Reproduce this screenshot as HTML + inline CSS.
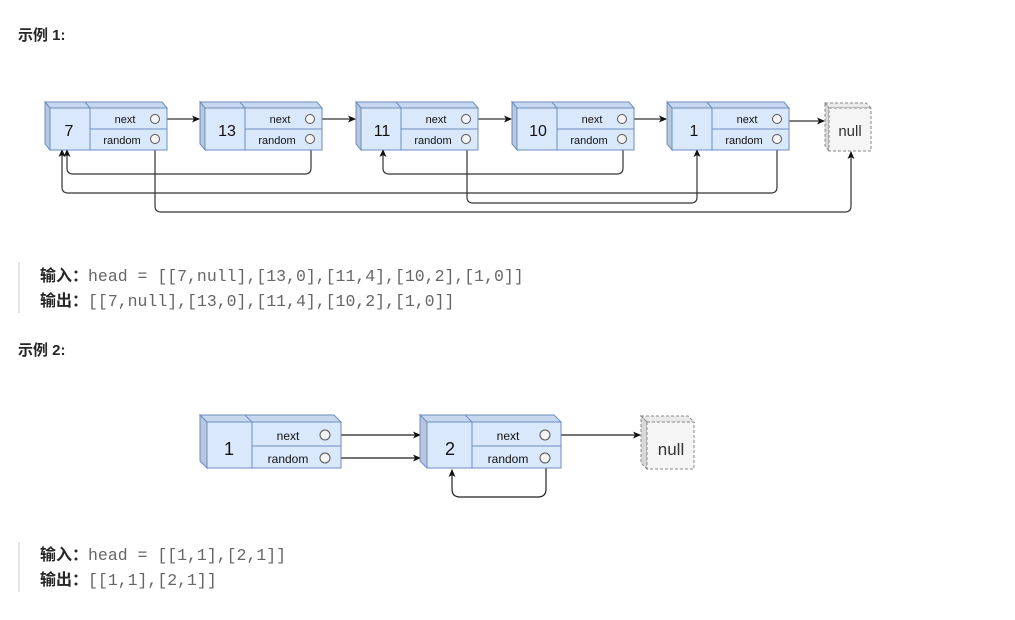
<!DOCTYPE html>
<html><head><meta charset="utf-8">
<style>
body{margin:0;width:1015px;height:620px;background:#fff;position:relative;overflow:hidden;font-family:"Liberation Sans","Noto Sans CJK SC",sans-serif;}
.h{position:absolute;left:18px;font-weight:bold;font-size:15px;color:#262626;}
.q{position:absolute;left:18px;border-left:2px solid #e5e5e5;padding-left:20px;}
.l{height:25px;line-height:25px;font-size:16.5px;color:#666;font-family:"Liberation Mono",monospace;white-space:pre;}
.l b{font-family:"Liberation Sans","Noto Sans CJK SC",sans-serif;color:#262626;font-size:16px;}
svg{position:absolute;left:0;top:0;}
svg text{font-family:"Liberation Sans",sans-serif;fill:#111;}
</style></head><body>
<div class="h" style="top:24px">示例 1:</div>
<div class="q" style="top:262px;height:51px"><div class="l" style="margin-top:2px"><b>输入：</b>head = [[7,null],[13,0],[11,4],[10,2],[1,0]]</div><div class="l"><b>输出：</b>[[7,null],[13,0],[11,4],[10,2],[1,0]]</div></div>
<div class="h" style="top:339px">示例 2:</div>
<div class="q" style="top:542px;height:50px"><div class="l" style="margin-top:1px"><b>输入：</b>head = [[1,1],[2,1]]</div><div class="l"><b>输出：</b>[[1,1],[2,1]]</div></div>

<svg width="1015" height="620" viewBox="0 0 1015 620">
<defs>
<marker id="a" markerWidth="8" markerHeight="8" refX="7" refY="4" orient="auto" markerUnits="userSpaceOnUse"><path d="M0,0.5 L8,4 L0,7.5 L2,4 Z" fill="#111"/></marker>
<g id="n1">
<polygon points="0,0 117,0 122,6 5,6" fill="#c7d7ef" stroke="#6c8ebf"/>
<polygon points="0,0 5,6 5,48 0,42" fill="#b9c6dc" stroke="#6c8ebf"/>
<rect x="5" y="6" width="117" height="42" fill="#dae8fc" stroke="#6c8ebf"/>
<line x1="45" y1="6" x2="45" y2="48" stroke="#6c8ebf"/>
<line x1="40" y1="0" x2="45" y2="6" stroke="#6c8ebf"/>
<line x1="45" y1="27" x2="122" y2="27" stroke="#6c8ebf"/>
<text x="80" y="21" font-size="11" text-anchor="middle">next</text>
<text x="77" y="42" font-size="11" text-anchor="middle">random</text>
<circle cx="110" cy="17" r="4.5" fill="#f5f5f5" stroke="#555"/>
<circle cx="110" cy="37" r="4.5" fill="#f5f5f5" stroke="#555"/>
</g>
<g id="n2">
<polygon points="0,0 134,0 141,7 7,7" fill="#c7d7ef" stroke="#6c8ebf"/>
<polygon points="0,0 7,7 7,53 0,46" fill="#b9c6dc" stroke="#6c8ebf"/>
<rect x="7" y="7" width="134" height="46" fill="#dae8fc" stroke="#6c8ebf"/>
<line x1="52" y1="7" x2="52" y2="53" stroke="#6c8ebf"/>
<line x1="45" y1="0" x2="52" y2="7" stroke="#6c8ebf"/>
<line x1="52" y1="31" x2="141" y2="31" stroke="#6c8ebf"/>
<text x="88" y="25" font-size="12" text-anchor="middle">next</text>
<text x="88" y="48" font-size="12" text-anchor="middle">random</text>
<circle cx="125" cy="20" r="5" fill="#f5f5f5" stroke="#555"/>
<circle cx="125" cy="43" r="5" fill="#f5f5f5" stroke="#555"/>
</g>
</defs>
<!-- example 1 -->
<g fill="none" stroke="#333" stroke-width="1.2">
<path d="M160,119 H199" marker-end="url(#a)"/>
<path d="M315,119 H355" marker-end="url(#a)"/>
<path d="M471,119 H511" marker-end="url(#a)"/>
<path d="M627,119 H666" marker-end="url(#a)"/>
<path d="M782,121 H824" marker-end="url(#a)"/>
<path d="M311,144 V168 q0,6 -6,6 H73 q-6,0 -6,-6 V150" marker-end="url(#a)"/>
<path d="M777,144 V187 q0,6 -6,6 H68 q-6,0 -6,-6 V150" marker-end="url(#a)"/>
<path d="M155,144 V206 q0,6 6,6 H845 q6,0 6,-6 V152" marker-end="url(#a)"/>
<path d="M623,144 V168 q0,6 -6,6 H389 q-6,0 -6,-6 V150" marker-end="url(#a)"/>
<path d="M467,144 V197 q0,6 6,6 H691 q6,0 6,-6 V150" marker-end="url(#a)"/>
</g>
<use href="#n1" x="45" y="102"/><text x="69" y="136" font-size="16" text-anchor="middle">7</text>
<use href="#n1" x="200" y="102"/><text x="227" y="136" font-size="16" text-anchor="middle">13</text>
<use href="#n1" x="356" y="102"/><text x="382" y="136" font-size="16" text-anchor="middle">11</text>
<use href="#n1" x="512" y="102"/><text x="538" y="136" font-size="16" text-anchor="middle">10</text>
<use href="#n1" x="667" y="102"/><text x="694" y="136" font-size="16" text-anchor="middle">1</text>
<g stroke="#888" stroke-dasharray="3,2" fill="#f5f5f5">
<polygon points="825,103 866,103 871,108 829,108" fill="#eaeaea"/>
<polygon points="825,103 829,108 829,151 825,146" fill="#d8d8d8"/>
<rect x="829" y="108" width="42" height="43"/>
</g>
<text x="850" y="136" font-size="15" text-anchor="middle" style="fill:#333">null</text>
<!-- example 2 -->
<g fill="none" stroke="#222" stroke-width="1.2">
<path d="M330,435 H420" marker-end="url(#a)"/>
<path d="M330,458 H420" marker-end="url(#a)"/>
<path d="M551,435 H640" marker-end="url(#a)"/>
<path d="M546,463 V489 q0,8 -8,8 H460 q-8,0 -8,-8 V470" marker-end="url(#a)"/>
</g>
<use href="#n2" x="200" y="415"/><text x="229" y="455" font-size="18" text-anchor="middle">1</text>
<use href="#n2" x="420" y="415"/><text x="450" y="455" font-size="18" text-anchor="middle">2</text>
<g stroke="#888" stroke-dasharray="3,2" fill="#f5f5f5">
<polygon points="641,416 688,416 694,422 647,422" fill="#eaeaea"/>
<polygon points="641,416 647,422 647,469 641,463" fill="#d8d8d8"/>
<rect x="647" y="422" width="47" height="47"/>
</g>
<text x="671" y="455" font-size="17" text-anchor="middle" style="fill:#333">null</text>
</svg>
</body></html>
